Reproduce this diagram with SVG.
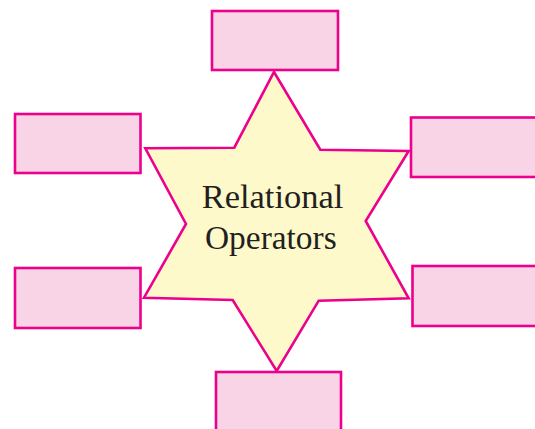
<svg xmlns="http://www.w3.org/2000/svg" width="535" height="429" viewBox="0 0 535 429">
<style>
.box{fill:#f9d3e6;stroke:#ec008c;stroke-width:2.6}
.star{fill:#fef9cb;stroke:#ec008c;stroke-width:2.6;stroke-linejoin:miter}
.lbl{font-family:"Liberation Serif","Times New Roman",serif;font-size:33px;fill:#231f20}
</style>
<rect width="535" height="429" fill="#ffffff"/>
<g id="connectors"></g>
<g id="box-top"><rect class="box" x="212" y="11" width="126" height="59"/></g>
<g id="box-upper-left"><rect class="box" x="15" y="114" width="125.5" height="59"/></g>
<g id="box-lower-left"><rect class="box" x="15" y="268" width="125.5" height="60"/></g>
<g id="box-upper-right"><rect class="box" x="411" y="117.5" width="130" height="59.5"/></g>
<g id="box-lower-right"><rect class="box" x="412.5" y="266" width="130" height="60"/></g>
<g id="box-bottom"><rect class="box" x="216" y="372" width="125" height="65"/></g>
<g id="star">
<polygon class="star" points="274,72 320.3,149.7 408.7,151 365.7,221 408.7,298.3 318.7,300.7 276.7,371 232.7,300 144,297.7 186,224 145.3,148.3 234.3,147.7"/>
<text class="lbl" x="201.7" y="208.3" textLength="141.6" lengthAdjust="spacingAndGlyphs">Relational</text>
<text class="lbl" x="205" y="249" textLength="131.7" lengthAdjust="spacingAndGlyphs">Operators</text>
</g>
</svg>
